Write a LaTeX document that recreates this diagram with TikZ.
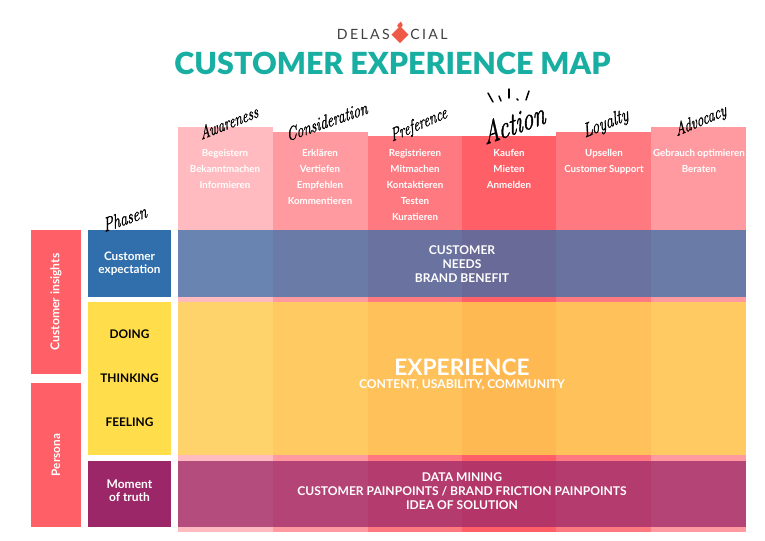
\documentclass[tikz,border=0pt]{standalone}
\usepackage{fontspec}
\setmainfont{Lato}
\newfontfamily\titlefont{Lato Black}
\newfontfamily\hand[FakeBold=1.6]{Latin Modern Roman}
\definecolor{cA}{HTML}{FFBBC0}
\definecolor{cB}{HTML}{FF9BA0}
\definecolor{cC}{HTML}{FF7A80}
\definecolor{cD}{HTML}{FF5F66}
\definecolor{redbox}{HTML}{FF5F66}
\definecolor{bluebox}{HTML}{316FAC}
\definecolor{yellowbox}{HTML}{FFDD4B}
\definecolor{purplebox}{HTML}{9B2768}
\definecolor{teal}{HTML}{18AFA2}
\definecolor{flame}{HTML}{EE5A45}
\newcommand{\fs}[1]{\fontsize{#1}{#1}\selectfont}
\tikzset{
  x=0.75pt,y=-0.75pt,
  coltext/.style={white,font=\fs{7.3}\bfseries,align=center,anchor=north,inner sep=0pt,text depth=0pt},
  bandtext/.style={white,font=\fs{9.05}\bfseries,align=center,inner sep=0pt},
  script/.style={black,inner sep=0pt},
}
\begin{document}
\begin{tikzpicture}
\useasboundingbox (0,0) rectangle (765,540);
\fill[white] (0,0) rectangle (765,540);
% columns
\fill[cA] (178,127) rectangle (273,532);
\fill[cB] (273,132) rectangle (368,532);
\fill[cC] (368,136) rectangle (462,532);
\fill[cD] (462,136) rectangle (556,532);
\fill[cC] (556,132) rectangle (651,532);
\fill[cB] (651,127) rectangle (746,532);
% bands
\fill[bluebox,fill opacity=.72] (178,230) rectangle (746,297);
\fill[yellowbox,fill opacity=.72] (178,302) rectangle (746,455);
\fill[purplebox,fill opacity=.75] (178,461) rectangle (746,527);
% left boxes
\fill[redbox] (31,230) rectangle (81,374);
\fill[redbox] (31,383) rectangle (81,527);
\fill[bluebox] (88,230) rectangle (171,297);
\fill[yellowbox] (88,302) rectangle (171,455);
\fill[purplebox] (88,461) rectangle (171,527);
% left labels
\node[white,font=\fs{9.1}\bfseries,rotate=90,inner sep=0pt] (insights) at (56,302) {Customer insights};
\node[white,font=\fs{8.8}\bfseries,rotate=90,inner sep=0pt] (persona) at (56,455) {Persona};
\node[white,font=\fs{8.8}\bfseries,align=center,inner sep=0pt] (expect) at (129.5,263.5) {Customer\\[1pt]expectation};
\node[black,font=\fs{8.9}\bfseries,inner sep=0pt] (doing) at (129.5,334.5) {DOING};
\node[black,font=\fs{8.9}\bfseries,inner sep=0pt] (thinking) at (129.5,378.5) {THINKING};
\node[black,font=\fs{8.9}\bfseries,inner sep=0pt] (feeling) at (129.5,422.5) {FEELING};
\node[white,font=\fs{9}\bfseries,align=center,inner sep=0pt] (moment) at (129.5,491) {Moment\\[1pt]of truth};
% band labels
\node[bandtext] (needs) at (462,264) {CUSTOMER\\[1.2pt]NEEDS\\[1.2pt]BRAND BENEFIT};
\node[white,font=\fs{17}\bfseries,inner sep=0pt] (exp) at (462,367) {EXPERIENCE};
\node[white,font=\fs{9.1}\bfseries,inner sep=0pt] (content) at (462,385) {CONTENT, USABILITY, COMMUNITY};
\node[bandtext] (mining) at (462,491) {DATA MINING\\[1.2pt]CUSTOMER PAINPOINTS / BRAND FRICTION PAINPOINTS\\[1.2pt]IDEA OF SOLUTION};
% column texts
\foreach \cx/\ty/\t in {225/149/Begeistern,225/165/Bekanntmachen,225/181/Informieren,
  320/149/Erklären,320/165/Vertiefen,320/181/Empfehlen,320/197/Kommentieren,
  415/149/Registrieren,415/165/Mitmachen,415/181/Kontaktieren,415/197/Testen,415/213/Kuratieren,
  509/149/Kaufen,509/165/Mieten,509/181/Anmelden,
  604/149/Upsellen,604/165/Customer Support,
  699/149/Gebrauch optimieren,699/165/Beraten}
  {\node[coltext] at (\cx,\ty) {\t};}
% title and logo
\node[teal,font=\titlefont\fs{22.8},inner sep=0pt] (title) at (392.5,63) {CUSTOMER EXPERIENCE MAP};
\node[black!75,font=\fs{10.6},anchor=east,inner sep=0pt] (delas) at (390,34) {D\,E\,L\,A\,S};
\node[black!75,font=\fs{10.6},anchor=west,inner sep=0pt] (cial) at (410,34) {C\,I\,A\,L};
\fill[flame] (400,26) -- (408.5,34.5) -- (400,43) -- (391.5,34.5) -- cycle;
\fill[flame] (400,28) .. controls (396,27) and (397,24) .. (399,23) .. controls (399,24) and (400,24) .. (400,21.5) .. controls (403,23) and (404,27) .. (400,28) -- cycle;
% handwritten headers
\node[script,font=\hand\itshape\fs{14},xscale=.72,rotate=16] (aw) at (229,122) {Awareness};
\node[script,font=\hand\itshape\fs{14.5},xscale=.72,rotate=14] (con) at (327,121) {Consideration};
\node[script,font=\hand\itshape\fs{14},xscale=.7,rotate=17] (pre) at (419,125) {Preference};
\node[script,font=\hand\itshape\fs{24},xscale=.7,rotate=14] (act) at (514,123) {Action};
\node[script,font=\hand\itshape\fs{15},xscale=.75,rotate=17] (loy) at (606,124) {Loyalty};
\node[script,font=\hand\itshape\fs{14},xscale=.72,rotate=17] (adv) at (701,121) {Advocacy};
\node[script,font=\hand\itshape\fs{15},xscale=.72,rotate=14] (pha) at (125,218) {Phasen};
% action marks
\foreach \a/\b/\c/\d in {488/93/493/102,499/96/501/101,509/89/509/98,517/99/518/100,529/91/526/100}
  {\draw[black,line width=1.1pt,line cap=round] (\a,\b) -- (\c,\d);}
\end{tikzpicture}
\end{document}
